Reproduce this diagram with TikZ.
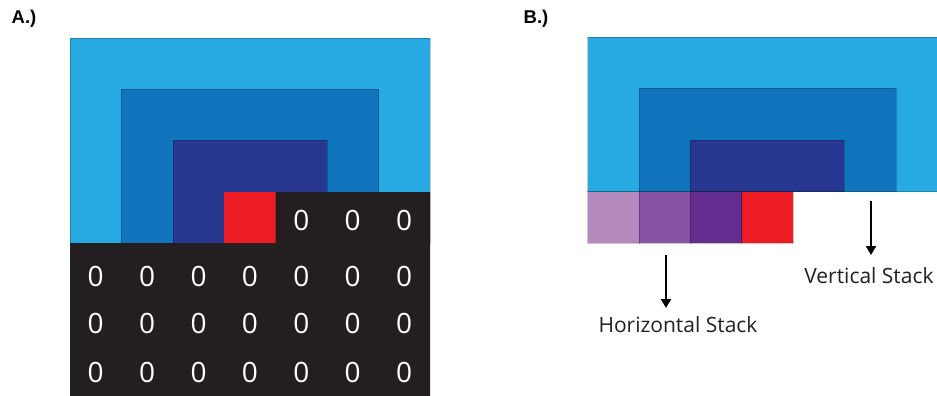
\documentclass[tikz,border=0pt]{standalone}
\usepackage{fontspec}
\setmainfont{Open Sans}
\newfontfamily\lblfont{Liberation Sans}
\usetikzlibrary{arrows.meta}
\definecolor{lblue}{HTML}{27AAE1}
\definecolor{mblue}{HTML}{1075BC}
\definecolor{dblue}{HTML}{283891}
\definecolor{cred}{HTML}{ED1C24}
\definecolor{cblack}{HTML}{231F20}
\definecolor{pa}{HTML}{B48ABE}
\definecolor{pb}{HTML}{8652A1}
\definecolor{pc}{HTML}{662D91}
\begin{document}
\begin{tikzpicture}[x=1pt,y=-1pt,
  blk/.style={draw=black,draw opacity=0.22,line width=0.6pt},
  zero/.style={text=white,font=\fontsize{28}{28}\selectfont,inner sep=0pt},
  panel/.style={font=\lblfont\bfseries\fontsize{18.5}{18.5}\selectfont,inner sep=0pt,anchor=west},
  captext/.style={font=\fontsize{21}{21}\selectfont,inner sep=0pt,text=cblack},
  arr/.style={line width=2.4pt,-{Triangle[width=10pt,length=9pt]}}]
\useasboundingbox (0,0) rectangle (937,396);
% Panel labels
\node[panel] (la) at (11.5,18.5) {A.)};
\node[panel] (lb) at (523.5,18.5) {B.)};
% Panel A
\fill[lblue,blk] (70,38) rectangle (430,243);
\fill[mblue,blk] (121.4,89.4) rectangle (378.6,243);
\fill[dblue,blk] (172.9,140.3) rectangle (327.1,243);
\fill[cred] (224.3,192) rectangle (275.7,243);
\fill[cblack] (70,243) -- (275.7,243) -- (275.7,192) -- (430,192) -- (430,396) -- (70,396) -- cycle;
\foreach \c/\x in {5/301.4,6/352.7,7/404.1}{\node[zero] (z1\c) at (\x,220) {0};}
\foreach \r/\y in {2/276,3/323,4/372}{
  \foreach \c/\x in {1/95.7,2/147.1,3/198.6,4/250,5/301.4,6/352.7,7/404.1}{
    \node[zero] (z\r\c) at (\x,\y) {0};}}
% Panel B
\fill[lblue,blk] (587.7,37.3) rectangle (940,191.7);
\fill[mblue,blk] (639,88.3) rectangle (896,191.7);
\fill[dblue,blk] (690.3,140) rectangle (844.3,191.7);
\fill[pa,blk] (587.7,191.7) rectangle (639,243.3);
\fill[pb,blk] (639,191.7) rectangle (690.3,243.3);
\fill[pc,blk] (690.3,191.7) rectangle (741.7,243.3);
\fill[cred,blk] (741.7,191.7) rectangle (793.3,243.3);
\coordinate (h0) at (666,255);
\coordinate (h1) at (666,308);
\coordinate (v0) at (871,201);
\coordinate (v1) at (871,255);
\draw[arr] (h0) -- (h1);
\draw[arr] (v0) -- (v1);
\node[captext] (hs) at (678,324.5) {Horizontal Stack};
\node[captext] (vs) at (869,276) {Vertical Stack};
\end{tikzpicture}
\end{document}
